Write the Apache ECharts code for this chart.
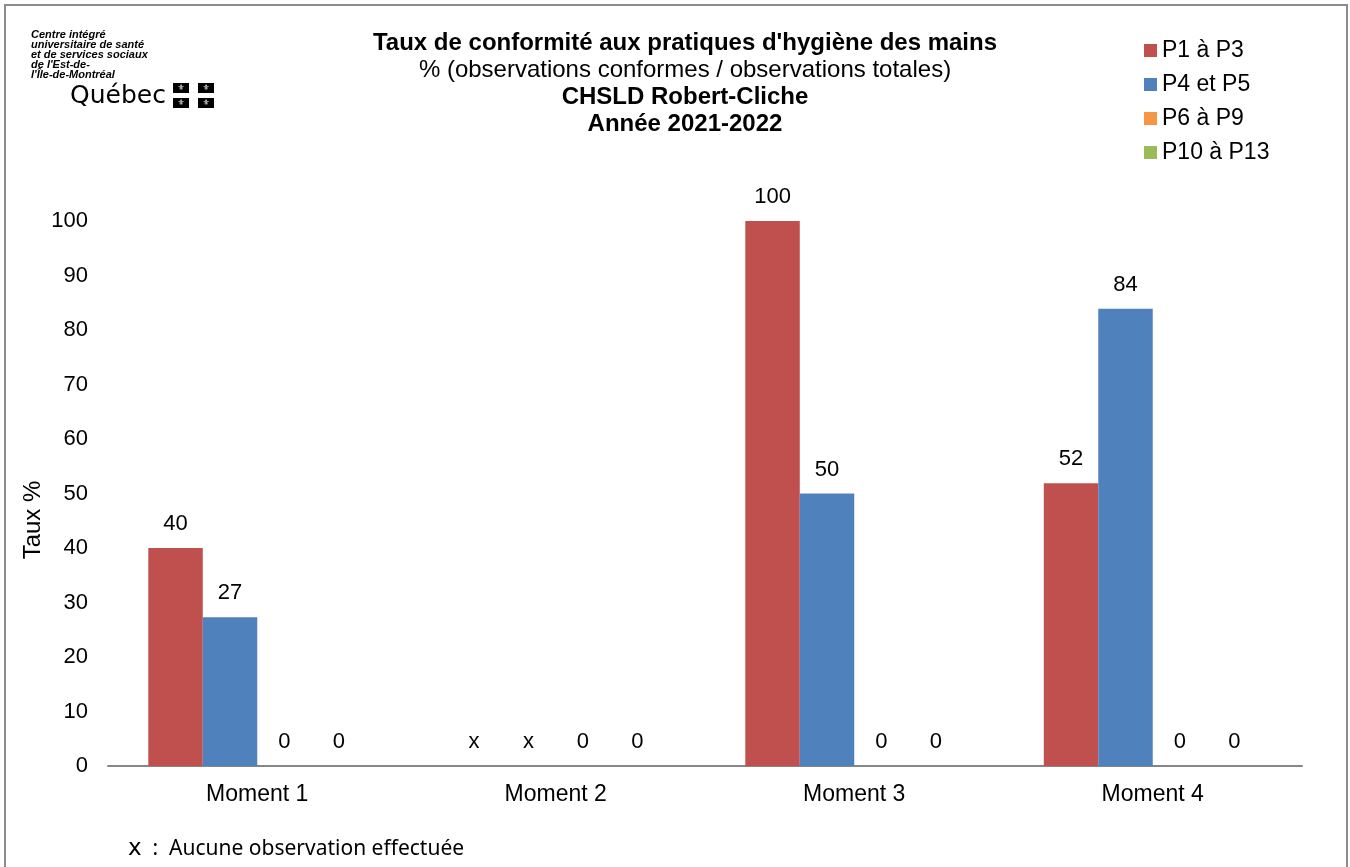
<!DOCTYPE html>
<html>
<head>
<meta charset="utf-8">
<title>Taux de conformité</title>
<script src="https://cdn.jsdelivr.net/npm/echarts@6/dist/echarts.min.js"></script>
<style>
  html, body { margin: 0; padding: 0; background: #fff; }
  #chart { width: 1350px; height: 867px; }
</style>
</head>
<body>
<div id="chart"></div>
<script>
// données du graphique
const moments = ['Moment 1', 'Moment 2', 'Moment 3', 'Moment 4'];
const seriesNames = ['P1 à P3', 'P4 et P5', 'P6 à P9', 'P10 à P13'];
const seriesColors = ['#C0504D', '#4F81BD', '#F79646', '#9BBB59'];
// null = aucune observation (affiché "x")
const p1a3 = [40, null, 100, 51.9];
const p4et5 = [27.3, null, 50, 83.9];
const p6a9 = [0, 0, 0, 0];
const p10a13 = [0, 0, 0, 0];
const yTicks = [0, 10, 20, 30, 40, 50, 60, 70, 80, 90, 100];

const font = 'Liberation Sans, Arial, sans-serif';
const chart = echarts.init(document.getElementById('chart'));

function toData(values) {
  return values.map(v => v === null ? { value: 0, missing: true } : { value: v });
}

const allValues = [p1a3, p4et5, p6a9, p10a13];
const series = allValues.map((vals, i) => ({
  name: seriesNames[i],
  type: 'bar',
  data: toData(vals),
  barCategoryGap: '27%',
  barGap: '0%',
  itemStyle: { color: seriesColors[i] },
  label: {
    show: true,
    position: 'top',
    distance: 13,
    color: '#000',
    fontFamily: font,
    fontSize: 22,
    formatter: p => p.data.missing ? 'x' : String(Math.round(p.value))
  }
}));

const flag = (x, y) => [
  { type: 'rect', shape: { x: x, y: y, width: 16, height: 10 }, style: { fill: '#000' } },
  { type: 'text', x: x + 8, y: y + 5, style: { text: '⚜', fontSize: 8, fill: '#fff', align: 'center', verticalAlign: 'middle', fontFamily: 'DejaVu Sans' } }
];

const option = {
  animation: false,
  backgroundColor: '#fff',
  title: {
    text: "Taux de conformité aux pratiques d'hygiène des mains",
    subtext: '% (observations conformes / observations totales)\n{b|CHSLD Robert-Cliche}\n{b|Année 2021-2022}',
    left: 680,
    textAlign: 'center',
    top: 26,
    itemGap: 2,
    textStyle: { fontFamily: font, fontSize: 24, fontWeight: 'bold', color: '#000' },
    subtextStyle: {
      fontFamily: font, fontSize: 24, color: '#000', lineHeight: 27,
      rich: { b: { fontFamily: font, fontSize: 24, fontWeight: 'bold', color: '#000', lineHeight: 27 } }
    }
  },
  legend: {
    orient: 'vertical',
    left: 1139,
    top: 34,
    itemWidth: 13,
    itemHeight: 13,
    itemGap: 11,
    icon: 'rect',
    data: seriesNames,
    textStyle: { fontFamily: font, fontSize: 23, color: '#000' }
  },
  grid: { left: 108, right: 48, top: 221, bottom: 101, containLabel: false },
  xAxis: {
    type: 'category',
    data: moments,
    axisLine: { lineStyle: { color: '#868686', width: 2 } },
    axisTick: { show: false },
    axisLabel: { color: '#000', fontFamily: font, fontSize: 23, margin: 17 }
  },
  yAxis: {
    type: 'value',
    min: 0,
    max: 100,
    interval: 10,
    axisLine: { show: false },
    axisTick: { show: false },
    splitLine: { show: false },
    axisLabel: {
      color: '#000', fontFamily: font, fontSize: 22, margin: 20,
      formatter: v => yTicks.includes(v) ? String(v) : ''
    }
  },
  series: series,
  graphic: [
    // cadre
    { type: 'rect', shape: { x: 5, y: 5, width: 1342, height: 870 }, style: { fill: 'none', stroke: '#8c8c8c', lineWidth: 2 }, silent: true },
    // titre de l'axe Y
    { type: 'text', x: 33, y: 520, rotation: Math.PI / 2,
      style: { text: 'Taux %', fontFamily: font, fontSize: 24, fill: '#000', align: 'center', verticalAlign: 'middle' } },
    // note en bas
    { type: 'text', left: 128, top: 838,
      style: {
        text: '{x|x}{n|  :  Aucune observation effectuée}',
        rich: {
          x: { fontFamily: 'DejaVu Sans, sans-serif', fontSize: 23, fill: '#000' },
          n: { fontFamily: 'Noto Sans, sans-serif', fontSize: 21, fill: '#000' }
        }
      } },
    // logo
    { type: 'text', left: 31, top: 29,
      style: {
        text: "Centre intégré\nuniversitaire de santé\net de services sociaux\nde l'Est-de-\nl'Île-de-Montréal",
        fontFamily: font, fontSize: 11, fontWeight: 'bold', fontStyle: 'italic', lineHeight: 10, fill: '#000'
      } },
    { type: 'text', left: 70, top: 84,
      style: { text: 'Québec', fontFamily: 'DejaVu Sans, sans-serif', fontSize: 25, fill: '#000' } },
    { type: 'group', left: 173, top: 83, children: [].concat(flag(0, 0), flag(25, 0), flag(0, 15), flag(25, 15)) }
  ]
};

chart.setOption(option);
</script>
</body>
</html>
